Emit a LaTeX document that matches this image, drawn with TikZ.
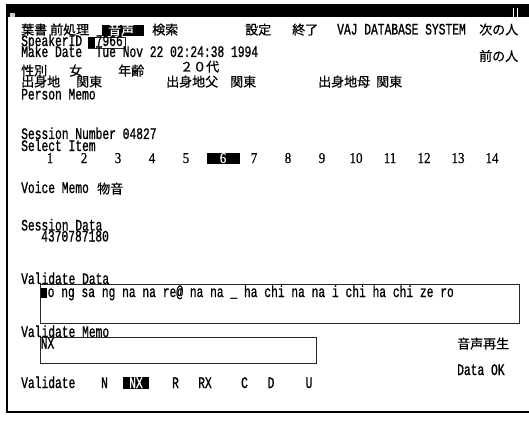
\documentclass[tikz,border=0pt]{standalone}
\usepackage{fontspec}
\newfontfamily\vmono[FakeStretch=0.705,FakeBold=0.9]{Liberation Mono}
\newfontfamily\vser[FakeStretch=0.87,FakeBold=0.6]{Liberation Serif}
\newfontfamily\vjp[FakeBold=0.6]{Noto Sans CJK JP}
\tikzset{
  mono/.style={font=\vmono\fontsize{16pt}{16pt}\selectfont, inner sep=0pt, anchor=base west, text height=9pt, text depth=1.5pt},
  jp/.style={font=\vjp\fontsize{13pt}{13pt}\selectfont, inner sep=0pt, anchor=base west, text height=10pt, text depth=1pt},
  num/.style={font=\vser\fontsize{15pt}{15pt}\selectfont, inner sep=0pt, anchor=base, text height=9.5pt, text depth=0pt},
  monoc/.style={mono, anchor=base},
  inv/.style={text=white},
  field/.style={draw=black!85, line width=0.8pt},
  hl/.style={fill=black},
}
\begin{document}
\begin{tikzpicture}[x=1pt,y=-1pt]
\useasboundingbox (0,0) rectangle (529,422);
\fill[white] (0,0) rectangle (529,422);
% window frame
\fill[black] (6,4) rectangle (529,17);
\fill[white!80!black] (10,13) rectangle (15,17);
\draw[white, line width=0.8pt] (513,8) -- (513,17) (517,8) -- (517,17);
\draw[black, line width=1.5pt] (7,4) -- (7,412) -- (529,412);

% menu row
\node[jp] (m1) at (21,34.5) {葉書};
\node[jp] (m2) at (50,34.5) {前処理};
\fill[hl] (102,25.5) rectangle (144,36);
\node[jp, inv] (m3) at (108,34.5) {音声};
\node[jp] (m4) at (152,34.5) {検索};
\node[jp] (m5) at (245,34.5) {設定};
\node[jp] (m6) at (292,34.5) {終了};
\node[mono] (title) at (337,34.5) {VAJ DATABASE SYSTEM};
\node[jp] (next) at (479,34.5) {次の人};

% speaker
\node[mono] (spk) at (21,46) {SpeakerID};
\draw[field] (88,37.5) rectangle (125,48);
\fill[hl] (88,37.5) rectangle (95,48);
\node[mono] (spkid) at (95.5,46) {7966};
\node[mono] (date) at (21,57) {Make Date~~Tue Nov 22 02:24:38 1994};
\node[jp] (prev) at (479,61) {前の人};

\node[jp] (sex) at (21,75.5) {性別};
\node[jp] (sexv) at (69,75.5) {女};
\node[jp] (age) at (118,75.5) {年齢};
\node[jp] (agev) at (180,71.5) {２０代};

\node[jp] (b1) at (21,86.5) {出身地};
\node[jp] (b1v) at (76,86.5) {関東};
\node[jp] (b2) at (166,86.5) {出身地父};
\node[jp] (b2v) at (230,86.5) {関東};
\node[jp] (b3) at (318,86.5) {出身地母};
\node[jp] (b3v) at (376,86.5) {関東};

\node[mono] (pmemo) at (21,99.5) {Person Memo};

% session
\node[mono] (sess) at (21,139) {Session Number 04827};
\node[mono] (sel) at (21,151) {Select Item};
\foreach \i in {1,...,14} {
  \pgfmathsetmacro{\xx}{50+34*(\i-1)}
  \ifnum\i=6
    \fill[hl] (207,153) rectangle (240,164);
    \node[num, inv] (it\i) at (\xx+3,163) {\i};
  \else
    \node[num] (it\i) at (\xx,163) {\i};
  \fi
}
\node[mono] (vmemo) at (21,193) {Voice Memo};
\node[jp] (vmemov) at (97,193.5) {物音};

\node[mono] (sdata) at (21,230.5) {Session Data};
\node[mono] (sdatav) at (41,241.5) {4370787180};

% validate data
\node[mono] (vdata) at (21,284) {Validate Data};
\draw[field] (40,284.5) rectangle (519,323);
\fill[hl] (40.5,288) rectangle (47,298);
\node[mono] (vtext) at (47.5,297) {o ng sa ng na na re@ na na \_ ha chi na na i chi ha chi ze ro};

% validate memo
\node[mono] (vmem) at (21,337) {Validate Memo};
\draw[field] (40,337) rectangle (316,363);
\node[mono] (nx) at (40.5,348.5) {NX};

\node[jp] (play) at (457,348.5) {音声再生};
\node[mono] (ok) at (457,375) {Data OK};

% validate row
\node[mono] (val) at (21,388) {Validate};
\node[monoc] (vN) at (104.5,388) {N};
\fill[hl] (123,377) rectangle (149,388.5);
\node[monoc, inv] (vNX) at (136,388) {NX};
\node[monoc] (vR) at (175.5,388) {R};
\node[monoc] (vRX) at (205,388) {RX};
\node[monoc] (vC) at (244.5,388) {C};
\node[monoc] (vD) at (271,388) {D};
\node[monoc] (vU) at (309,388) {U};
\end{tikzpicture}
\end{document}
